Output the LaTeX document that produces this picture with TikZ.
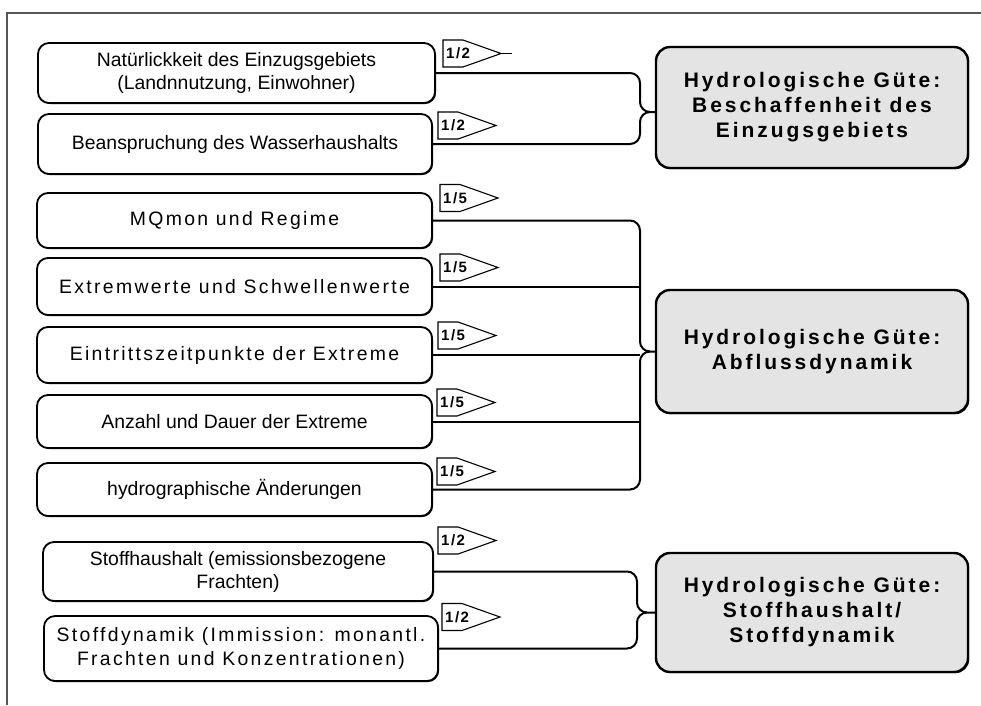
\documentclass[tikz,border=0pt]{standalone}
\usepackage{fontspec}
\setmainfont{Liberation Sans}
\newfontfamily\spc[LetterSpace=12]{Liberation Sans}
\newfontfamily\bspc[LetterSpace=14]{Liberation Sans}
\newfontfamily\tspc[LetterSpace=10]{Liberation Sans}
\usetikzlibrary{shadows}
\definecolor{framegray}{HTML}{555555}
\definecolor{boxgray}{HTML}{E4E4E4}
\tikzset{
  lbox/.style={draw=black, line width=1.8pt, rounded corners=11pt, fill=white, inner sep=0pt, align=center,
    font=\fontsize{19.4}{23}\selectfont,
    drop shadow={shadow xshift=1pt, shadow yshift=-1pt, opacity=1, fill=black}},
  rbox/.style={draw=black, line width=2.4pt, rounded corners=14pt, fill=boxgray, inner sep=0pt, align=center,
    minimum width=312pt, font=\bspc\bfseries\fontsize{21}{25}\selectfont,
    drop shadow={shadow xshift=1.2pt, shadow yshift=-1.2pt, opacity=1, fill=black}},
  conn/.style={draw=black, line width=2pt},
  tagline/.style={draw=black, line width=1.1pt, fill=white, line join=miter},
  taglabel/.style={inner sep=0pt, font=\tspc\bfseries\fontsize{15}{17}\selectfont},
}
\newcommand\mytag[4]{%
  \draw[tagline] (#2,#3-13.5) -- (#2+20,#3-13.5) -- (#2+58,#3) -- (#2+20,#3+13.5) -- (#2,#3+13.5) -- cycle;
  \node[taglabel, anchor=west] (#1) at (#2+3,#3) {#4};}
\begin{document}
\begin{tikzpicture}[x=1pt, y=-1pt]
\useasboundingbox (0,0) rectangle (981,705);
% frame
\draw[framegray, line width=2pt] (6.5,705) -- (6.5,13) -- (981,13);

% left boxes
\node[lbox, minimum width=397pt, minimum height=60pt] (b1) at (236.5,73) {Natürlickkeit des Einzugsgebiets\\(Landnnutzung, Einwohner)};
\node[lbox, minimum width=394pt, minimum height=60pt] (b2) at (235,144) {Beanspruchung des Wasserhaushalts};
\node[lbox, minimum width=395pt, minimum height=55pt] (b3) at (234.5,220.5) {\spc MQmon und Regime};
\node[lbox, minimum width=395pt, minimum height=57pt] (b4) at (234.5,286.5) {\spc Extremwerte und Schwellenwerte};
\node[lbox, minimum width=395pt, minimum height=56pt] (b5) at (234.5,355) {\spc Eintrittszeitpunkte der Extreme};
\node[lbox, minimum width=395pt, minimum height=53pt] (b6) at (234.5,421.5) {Anzahl und Dauer der Extreme};
\node[lbox, minimum width=395pt, minimum height=53pt] (b7) at (234.5,489.5) {hydrographische Änderungen};
\node[lbox, minimum width=390pt, minimum height=59pt] (b8) at (238,571.5) {Stoffhaushalt (emissionsbezogene\\Frachten)};
\node[lbox, minimum width=394pt, minimum height=65pt, font=\spc\fontsize{19.4}{24}\selectfont] (b9) at (241,648.5) {Stoffdynamik (Immission: monantl.\\Frachten und Konzentrationen)};

% right boxes
\node[rbox, minimum height=121pt] (A) at (812,107.5) {Hydrologische Güte:\\Beschaffenheit des\\Einzugsgebiets};
\node[rbox, minimum height=123pt] (B) at (812,351.5) {Hydrologische Güte:\\Abflussdynamik};
\node[rbox, minimum height=119pt] (C) at (812,612.5) {Hydrologische Güte:\\Stoffhaushalt/\\Stoffdynamik};

% connectors group A
\draw[conn] (b1.east) -- (630,73) arc[start angle=90, end angle=0, radius=10pt] -- (640,102)
  arc[start angle=180, end angle=270, radius=10pt] -- (A.west |- 0,112);
\draw[conn] (b2.east) -- (630,144) arc[start angle=270, end angle=360, radius=10pt] -- (640,122)
  arc[start angle=180, end angle=90, radius=10pt];

% connectors group B
\draw[conn] (b3.east) -- (630,220.5) arc[start angle=90, end angle=0, radius=10pt] -- (640,341.5)
  arc[start angle=180, end angle=270, radius=10pt] -- (B.west);
\draw[conn] (b7.east) -- (630,489.5) arc[start angle=270, end angle=360, radius=10pt] -- (640,361.5)
  arc[start angle=180, end angle=90, radius=10pt];
\draw[conn] (b4.east) -- (640,286.5);
\draw[conn] (b5.east) -- (640,355);
\draw[conn] (b6.east) -- (640,421.5);

% connectors group C
\draw[conn] (b8.east) -- (627,571.5) arc[start angle=90, end angle=0, radius=10pt] -- (637,602.5)
  arc[start angle=180, end angle=270, radius=10pt] -- (C.west);
\draw[conn] (b9.east) -- (627,648.5) arc[start angle=270, end angle=360, radius=10pt] -- (637,622.5)
  arc[start angle=180, end angle=90, radius=10pt];

% tags
\mytag{t1}{443}{53.5}{1/2}
\coordinate (t1tail) at (512,53.5);
\draw[line width=1.1pt] (501,53.5) -- (t1tail);
\mytag{t2}{438}{125.5}{1/2}
\mytag{t3}{440}{198}{1/5}
\mytag{t4}{440}{267.5}{1/5}
\mytag{t5}{438}{335.5}{1/5}
\mytag{t6}{437}{402.5}{1/5}
\mytag{t7}{437}{471.5}{1/5}
\mytag{t8}{438}{540.5}{1/2}
\mytag{t9}{442}{617}{1/2}
\end{tikzpicture}
\end{document}
